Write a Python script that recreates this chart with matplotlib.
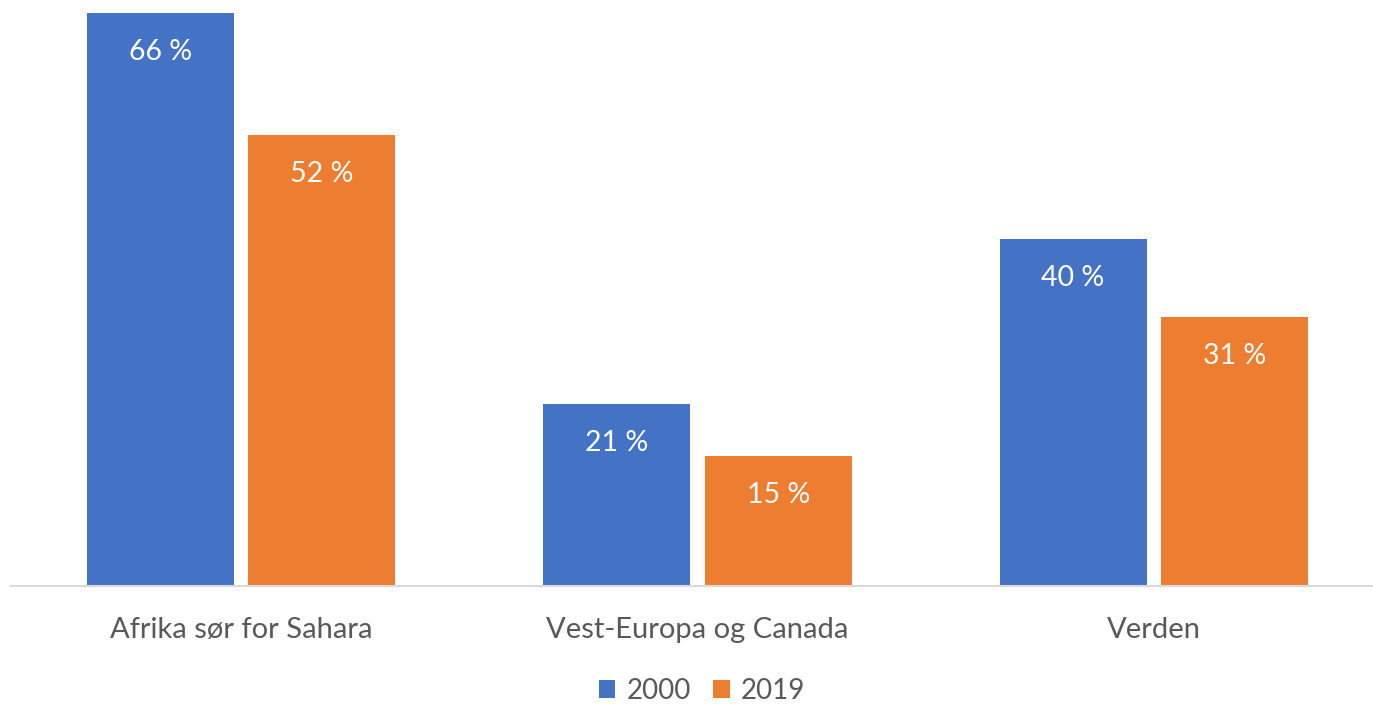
import numpy as np
import matplotlib.pyplot as plt

categories = ["Afrika sør for Sahara", "Vest-Europa og Canada", "Verden"]
years = ["2000", "2019"]
values_2000 = [66, 21, 40]
values_2019 = [52, 15, 31]
colors = ["#4472C4", "#ED7D31"]

plt.rcParams["font.family"] = ["Lato", "DejaVu Sans"]

fig = plt.figure(figsize=(13.73, 7.06), dpi=100)
ax = fig.add_axes([11 / 1373, 1 - 586 / 706, 1 - 11 / 1373, 586 / 706])

x = np.arange(len(categories))
width = 0.322
offset = 0.177
series = [values_2000, values_2019]
for k, (vals, col, lab) in enumerate(zip(series, colors, years)):
    pos = x + (offset if k else -offset)
    bars = ax.bar(pos, vals, width=width, color=col, label=lab)
    for b, v in zip(bars, vals):
        ax.text(b.get_x() + b.get_width() / 2, v - 4.5, f"{v} %",
                ha="center", va="center", color="white", fontsize=20.5)

ax.set_xlim(-0.504, 2.48)
ax.set_ylim(0, 67.5)
ax.set_yticks([])
ax.set_xticks(x)
ax.set_xticklabels(categories, fontsize=21, color="#595959")
ax.tick_params(axis="x", length=0, pad=22)
for s in ["top", "right", "left"]:
    ax.spines[s].set_visible(False)
ax.spines["bottom"].set_color("#d9d9d9")
ax.spines["bottom"].set_linewidth(1.5)

fig.legend(loc="center", bbox_to_anchor=(702 / 1373, 1 - 691 / 706), ncol=2, frameon=False,
           fontsize=20, labelcolor="#595959", handlelength=0.6, handleheight=0.6,
           handletextpad=0.4, columnspacing=0.8, borderpad=0)

fig.savefig("out.png", dpi=100)
